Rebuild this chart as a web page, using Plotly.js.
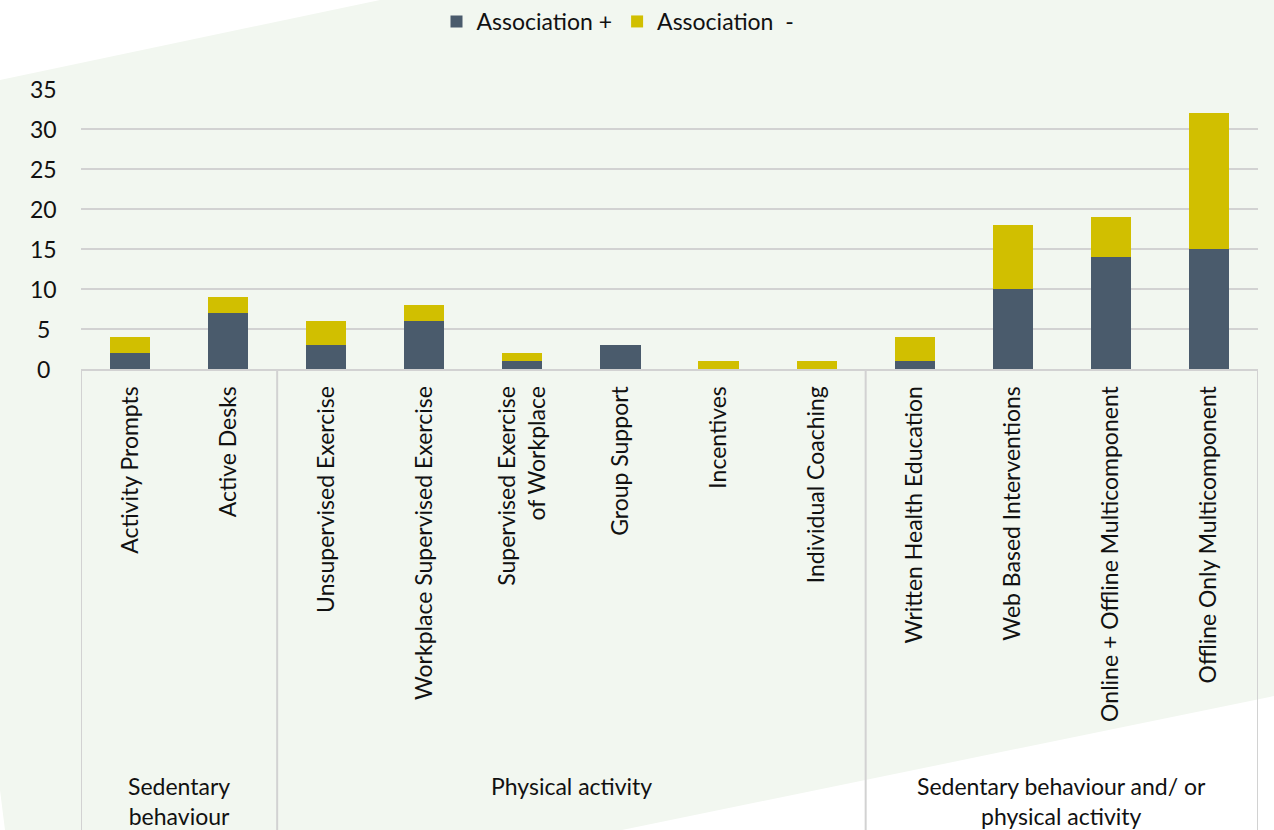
<!DOCTYPE html>
<html>
<head>
<meta charset="utf-8">
<script src="https://cdn.plot.ly/plotly-3.0.1.min.js"></script>
<style>
  html, body { margin: 0; padding: 0; background: #ffffff; }
  #bg { position: absolute; left: 0; top: 0; width: 1274px; height: 830px; background: #f2f7f0;
        clip-path: polygon(0px 80px, 380px 0px, 1274px 0px, 1274px 696px, 622px 830px, 5px 830px, 0px 790px); }
  #chart { position: absolute; left: 0; top: 0; width: 1274px; height: 830px; }
</style>
</head>
<body>
<div id="bg"></div>
<div id="chart"></div>
<script>
const categories = [
  "Activity Prompts", "Active Desks",
  "Unsupervised Exercise", "Workplace Supervised Exercise", "Supervised Exercise<br>of Workplace",
  "Group Support", "Incentives", "Individual Coaching",
  "Written Health Education", "Web Based Interventions", "Online + Offline Multicomponent", "Offline Only Multicomponent"
];
const associationPlus  = [2, 7, 3, 6, 1, 3, 0, 0, 1, 10, 14, 15];
const associationMinus = [2, 2, 3, 2, 1, 0, 1, 1, 3, 8, 5, 17];
const groupNames = ["Sedentary<br>behaviour", "Physical activity", "Sedentary behaviour and/ or<br>physical activity"];
const groupSizes = [2, 6, 4];
const yTicks = [0, 5, 10, 15, 20, 25, 30, 35];

const FONT = "Lato, 'Open Sans', sans-serif";
const FS = 23;
const gridCol = "#d2d2d2";
const xIdx = categories.map((c, i) => i);

const traces = [
  { type: "bar", name: "Association +", x: xIdx, y: associationPlus, marker: { color: "#4a5b6c" } },
  { type: "bar", name: "Association\u00a0 -", x: xIdx, y: associationMinus, marker: { color: "#d1bf00" } }
];

const plotH = 280, bottomPx = 461;

const annotations = [];
yTicks.forEach(v => annotations.push({
  xref: "paper", yref: "y", x: -38 / 1177, y: v, xanchor: "center", yanchor: "middle",
  text: String(v), showarrow: false, font: { family: FONT, size: FS, color: "#111" }
}));

const shapes = [];
let start = 0;
const bounds = [-0.5];
groupSizes.forEach((n, g) => {
  const center = start + (n - 1) / 2;
  annotations.push({
    xref: "x", yref: "paper", x: center, y: -(770 - 369) / plotH, xanchor: "center", yanchor: "top",
    text: groupNames[g], showarrow: false, align: "center",
    font: { family: FONT, size: FS, color: "#111" }
  });
  start += n;
  bounds.push(start - 0.5);
});
bounds.forEach(b => shapes.push({
  type: "line", xref: "x", yref: "paper", x0: b, x1: b, y0: 0, y1: -bottomPx / plotH,
  line: { color: gridCol, width: 2 }
}));

const layout = {
  width: 1274, height: 830,
  margin: { l: 81, r: 16, t: 89, b: bottomPx, pad: 0 },
  paper_bgcolor: "rgba(0,0,0,0)",
  plot_bgcolor: "rgba(0,0,0,0)",
  barmode: "stack",
  bargap: 0.59,
  font: { family: FONT, size: FS, color: "#111" },
  showlegend: true,
  legend: {
    orientation: "h", traceorder: "normal",
    xref: "container", yref: "container",
    x: 618 / 1274, xanchor: "center", y: 1, yanchor: "top",
    font: { family: FONT, size: FS, color: "#111" }, itemwidth: 30,
    bgcolor: "rgba(0,0,0,0)"
  },
  xaxis: {
    type: "linear", range: [-0.5, 11.5], tickmode: "array", tickvals: xIdx, ticktext: categories,
    tickangle: -90, ticklabelstandoff: 6, showgrid: false, zeroline: false,
    showline: true, linecolor: gridCol, linewidth: 2, ticks: "",
    tickfont: { family: FONT, size: FS, color: "#111" }
  },
  yaxis: {
    range: [0, 35], tickvals: yTicks, showticklabels: false, showgrid: true,
    gridcolor: gridCol, gridwidth: 2, zeroline: false, showline: false, ticks: ""
  },
  annotations: annotations,
  shapes: shapes
};

Plotly.newPlot("chart", traces, layout, { displayModeBar: false, staticPlot: true });
</script>
</body>
</html>
